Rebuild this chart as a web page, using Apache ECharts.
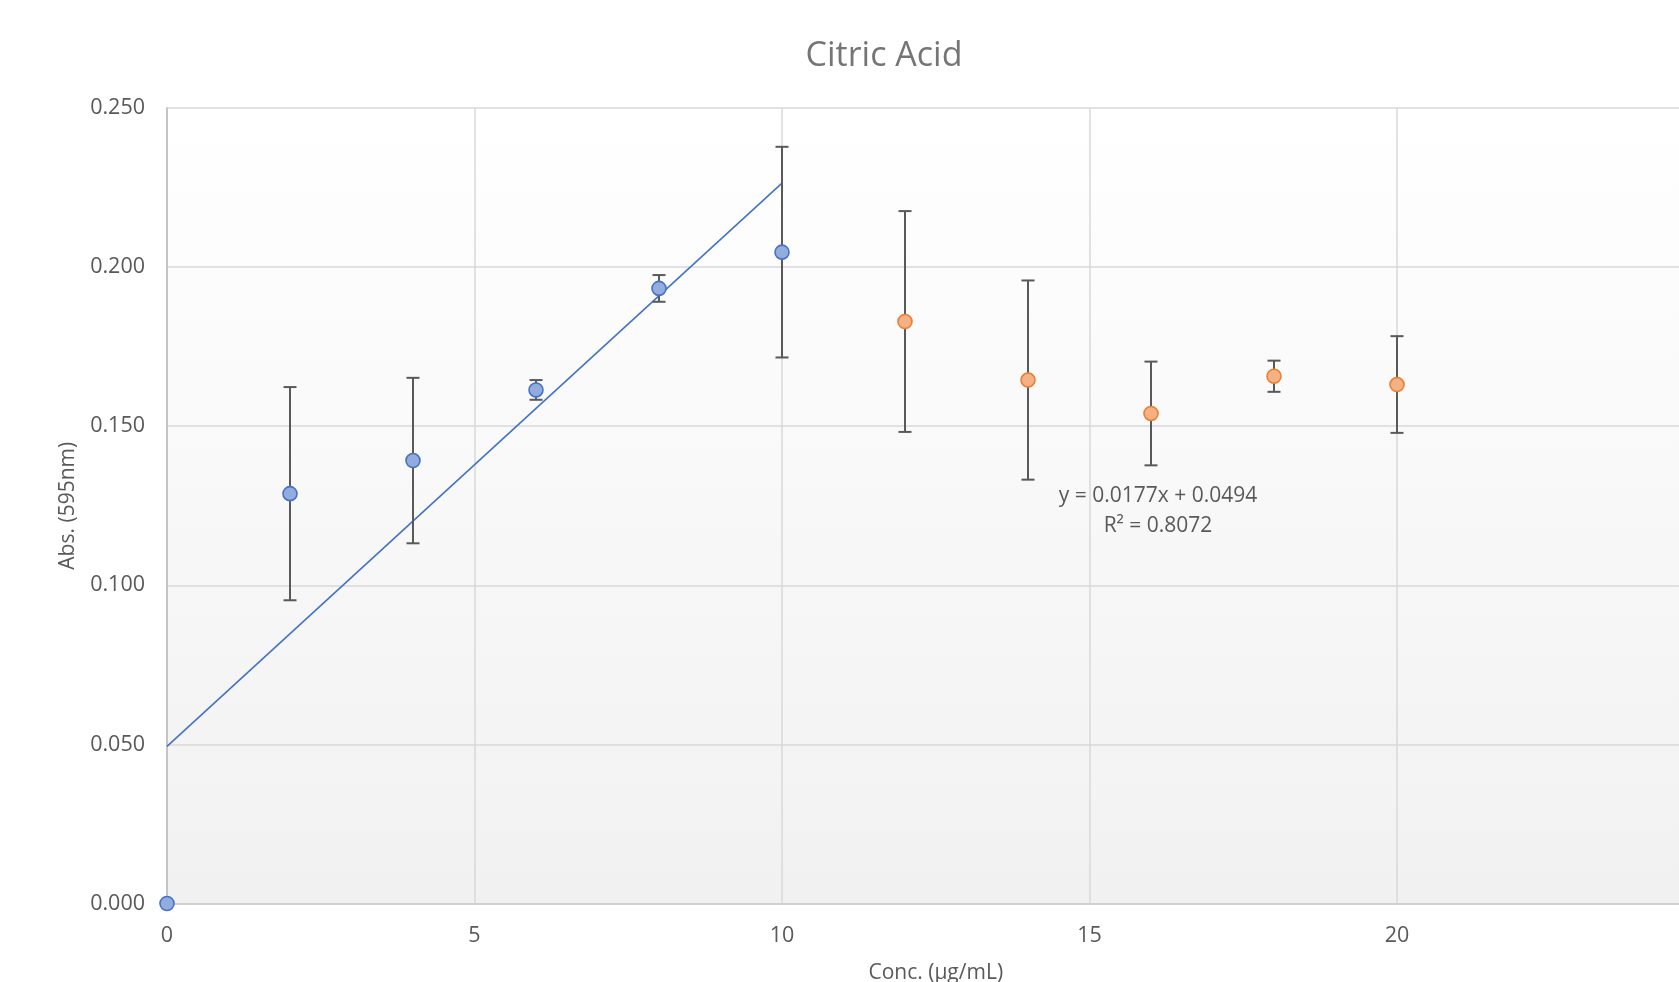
<!DOCTYPE html>
<html>
<head>
<meta charset="utf-8">
<script src="https://cdn.jsdelivr.net/npm/echarts@6/dist/echarts.min.js"></script>
<style>
html,body{margin:0;padding:0;background:#fff;}
#chart{width:1679px;height:982px;}
</style>
</head>
<body>
<div id="chart"></div>
<script>
// Data
const blueX = [0, 2, 4, 6, 8, 10];
const blueY = [0.000, 0.1288, 0.1392, 0.1614, 0.1933, 0.2047];
const blueErr = [0, 0.0335, 0.0260, 0.0031, 0.0042, 0.0331];
const orangeX = [12, 14, 16, 18, 20];
const orangeY = [0.1829, 0.1645, 0.1540, 0.1657, 0.1631];
const orangeErr = [0.0347, 0.0313, 0.0163, 0.0049, 0.0152];
const trendX = [0, 10];
const trendY = [0.0494, 0.2264];
const trendText = ['y = 0.0177x + 0.0494', 'R² = 0.8072'];
const xTicks = [0, 5, 10, 15, 20, 25];
const yTicks = [0.000, 0.050, 0.100, 0.150, 0.200, 0.250];

const FONT = '"Open Sans", "Noto Sans", sans-serif';

const errData = [];
blueX.forEach((x, i) => errData.push([x, blueY[i] - blueErr[i], blueY[i] + blueErr[i]]));
orangeX.forEach((x, i) => errData.push([x, orangeY[i] - orangeErr[i], orangeY[i] + orangeErr[i]]));
const errDataNonZero = errData.filter(d => d[2] - d[1] > 0);

const chart = echarts.init(document.getElementById('chart'));
chart.setOption({
  animation: false,
  backgroundColor: '#ffffff',
  title: {
    text: 'Citric Acid',
    left: 879, top: 34, textAlign: 'center',
    textStyle: { fontFamily: FONT, fontSize: 34, fontWeight: 'normal', color: '#757575' }
  },
  grid: {
    left: 167, top: 108, width: 1537.5, height: 795.5,
    show: true, borderWidth: 0,
    outerBoundsMode: 'none',
    containLabel: false,
    backgroundColor: new echarts.graphic.LinearGradient(0, 0, 0, 1, [
      { offset: 0, color: '#ffffff' },
      { offset: 1, color: '#f1f1f1' }
    ])
  },
  xAxis: {
    type: 'value', min: xTicks[0], max: xTicks[xTicks.length - 1], interval: 5,
    name: 'Conc. (μg/mL)', nameLocation: 'middle', nameGap: 59,
    nameTextStyle: { fontFamily: FONT, fontSize: 21, color: '#595959' },
    axisLine: { show: true, onZero: false, lineStyle: { color: '#d0d0d0', width: 2 } },
    axisTick: { show: false },
    axisLabel: { fontFamily: FONT, fontSize: 21.5, color: '#595959', margin: 21 },
    splitLine: { show: true, lineStyle: { color: '#d9d9d9', width: 1.5 } }
  },
  yAxis: {
    type: 'value', min: yTicks[0], max: yTicks[yTicks.length - 1], interval: 0.05,
    name: 'Abs. (595nm)', nameLocation: 'middle', nameGap: 88,
    nameTextStyle: { fontFamily: FONT, fontSize: 21, color: '#595959' },
    axisLine: { show: true, lineStyle: { color: '#c4c4c4', width: 2 } },
    axisTick: { show: false },
    axisLabel: { fontFamily: FONT, fontSize: 21.5, color: '#595959', margin: 22,
      formatter: v => v.toFixed(3) },
    splitLine: { show: true, lineStyle: { color: '#d9d9d9', width: 1.5 } }
  },
  graphic: [
    { type: 'text', x: 1158, y: 486, style: { text: trendText[0], fill: '#595959', font: '21px ' + FONT, textAlign: 'center' } },
    { type: 'text', x: 1158, y: 516, style: { text: trendText[1], fill: '#595959', font: '21px ' + FONT, textAlign: 'center' } }
  ],
  series: [
    {
      type: 'line', data: trendX.map((x, i) => [x, trendY[i]]),
      showSymbol: false, symbol: 'none', z: 3,
      lineStyle: { color: '#4472C4', width: 1.6 }, silent: true
    },
    {
      type: 'custom', z: 4, silent: true,
      data: errDataNonZero,
      renderItem: function (params, api) {
        const x = api.value(0);
        const lo = api.coord([x, api.value(1)]);
        const hi = api.coord([x, api.value(2)]);
        const cap = 6.5;
        const style = { stroke: '#595959', lineWidth: 2, fill: null };
        return {
          type: 'group',
          children: [
            { type: 'line', shape: { x1: lo[0], y1: lo[1], x2: hi[0], y2: hi[1] }, style },
            { type: 'line', shape: { x1: hi[0] - cap, y1: hi[1], x2: hi[0] + cap, y2: hi[1] }, style },
            { type: 'line', shape: { x1: lo[0] - cap, y1: lo[1], x2: lo[0] + cap, y2: lo[1] }, style }
          ]
        };
      }
    },
    {
      type: 'scatter', z: 5, symbolSize: 14,
      data: blueX.map((x, i) => [x, blueY[i]]),
      itemStyle: { color: '#93abdd', borderColor: '#4472C4', borderWidth: 1.6, opacity: 1 }
    },
    {
      type: 'scatter', z: 5, symbolSize: 14,
      data: orangeX.map((x, i) => [x, orangeY[i]]),
      itemStyle: { color: '#f4b183', borderColor: '#ED7D31', borderWidth: 1.6, opacity: 1 }
    }
  ]
});
</script>
</body>
</html>
